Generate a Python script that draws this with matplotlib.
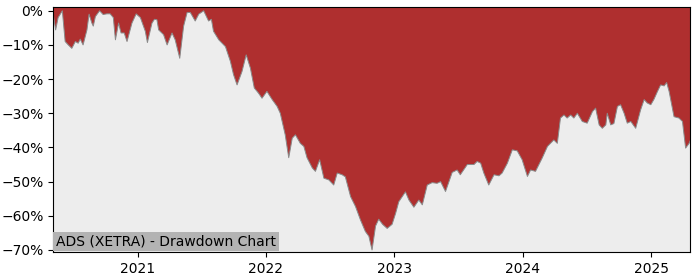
import matplotlib
matplotlib.use('Agg')
import matplotlib.pyplot as plt
import matplotlib.dates as mdates
import numpy as np
import pandas as pd
from matplotlib.ticker import PercentFormatter, MultipleLocator


# Точки просадки (дата, просадка в %)
dates = [
    '2020-05-06', '2020-05-13', '2020-05-20', '2020-06-01', '2020-06-09',
    '2020-06-18', '2020-06-28', '2020-07-08', '2020-07-16', '2020-07-22',
    '2020-07-30', '2020-08-10', '2020-08-16', '2020-08-24', '2020-08-28',
    '2020-09-03', '2020-09-15', '2020-09-25', '2020-10-06', '2020-10-15',
    '2020-10-24', '2020-10-30', '2020-11-08', '2020-11-15', '2020-11-24',
    '2020-12-02', '2020-12-16', '2020-12-28', '2021-01-09', '2021-01-23',
    '2021-01-29', '2021-02-11', '2021-02-18', '2021-02-25', '2021-03-02',
    '2021-03-16', '2021-03-26', '2021-04-09', '2021-04-18', '2021-05-01',
    '2021-05-12', '2021-05-22', '2021-05-31', '2021-06-14', '2021-06-24',
    '2021-07-08', '2021-07-22', '2021-07-30', '2021-08-05', '2021-08-20',
    '2021-09-08', '2021-09-22', '2021-10-01', '2021-10-11', '2021-10-25',
    '2021-11-06', '2021-11-18', '2021-11-29', '2021-12-11', '2021-12-21',
    '2022-01-04', '2022-01-19', '2022-02-02', '2022-02-11', '2022-02-25',
    '2022-03-07', '2022-03-17', '2022-03-26', '2022-04-09', '2022-04-19',
    '2022-04-28', '2022-05-13', '2022-05-22', '2022-06-03', '2022-06-15',
    '2022-06-29', '2022-07-13', '2022-07-23', '2022-08-06', '2022-08-15',
    '2022-08-30', '2022-09-13', '2022-09-27', '2022-10-11', '2022-10-21',
    '2022-10-30', '2022-11-09', '2022-11-18', '2022-11-29', '2022-12-12',
    '2022-12-26', '2023-01-05', '2023-01-14', '2023-02-02', '2023-02-12',
    '2023-02-26', '2023-03-12', '2023-03-22', '2023-04-05', '2023-04-19',
    '2023-05-03', '2023-05-13', '2023-05-27', '2023-06-15', '2023-06-29',
    '2023-07-08', '2023-07-28', '2023-08-16', '2023-08-25', '2023-09-04',
    '2023-09-13', '2023-09-27', '2023-10-12', '2023-10-26', '2023-11-04',
    '2023-11-19', '2023-12-03', '2023-12-17', '2023-12-31', '2024-01-15',
    '2024-01-24', '2024-02-07', '2024-02-26', '2024-03-12', '2024-03-30',
    '2024-04-09', '2024-04-18', '2024-04-28', '2024-05-07', '2024-05-17',
    '2024-05-26', '2024-06-05', '2024-06-19', '2024-07-03', '2024-07-18',
    '2024-07-27', '2024-08-06', '2024-08-15', '2024-08-25', '2024-08-29',
    '2024-09-08', '2024-09-17', '2024-09-27', '2024-10-06', '2024-10-16',
    '2024-10-25', '2024-11-04', '2024-11-18', '2024-12-02', '2024-12-12',
    '2024-12-21', '2024-12-31', '2025-01-09', '2025-01-19', '2025-01-28',
    '2025-02-07', '2025-02-14', '2025-02-21', '2025-03-07', '2025-03-21',
    '2025-03-31', '2025-04-09', '2025-04-19', '2025-04-22',
]
drawdown = [
    -1.0, -5.6, -2.0, 0.0, -9.0,
    -10.0, -11.0, -9.0, -9.5, -8.3,
    -10.0, -5.6, -1.0, -3.6, -4.5,
    -1.7, 0.0, -1.1, -0.9, -0.9,
    -2.0, -8.5, -3.6, -6.5, -6.5,
    -9.0, -3.6, -0.9, -2.0, -6.0,
    -9.3, -3.6, -2.5, -2.6, -5.6,
    -7.0, -10.0, -6.5, -8.5, -13.9,
    -4.5, -0.5, -0.5, -3.0, -1.0,
    0.0, -3.0, -2.5, -6.0, -8.5,
    -10.5, -14.8, -18.7, -21.7, -17.8,
    -12.9, -16.8, -22.6, -24.1, -25.6,
    -23.6, -26.0, -28.0, -30.0, -36.3,
    -43.0, -37.3, -36.3, -38.8, -39.7,
    -43.0, -46.0, -47.0, -43.6, -49.0,
    -49.5, -51.0, -47.5, -48.0, -48.6,
    -54.4, -57.3, -61.2, -64.6, -66.0,
    -70.0, -63.0, -61.0, -62.5, -63.7,
    -62.5, -59.3, -55.9, -53.0, -55.4,
    -57.5, -55.4, -56.8, -51.0, -50.3,
    -50.5, -50.0, -52.9, -47.3, -46.6,
    -48.0, -45.0, -45.0, -44.1, -44.6,
    -47.5, -51.0, -48.0, -48.3, -47.5,
    -44.6, -40.7, -41.0, -43.6, -48.5,
    -46.6, -47.0, -43.1, -39.7, -37.8,
    -38.8, -31.4, -30.5, -31.4, -30.5,
    -31.4, -30.0, -32.4, -32.9, -29.5,
    -28.5, -33.4, -34.4, -33.4, -30.0,
    -33.4, -33.0, -28.0, -27.5, -30.0,
    -32.9, -32.4, -34.4, -29.0, -26.0,
    -27.0, -27.5, -25.9, -23.6, -21.7,
    -22.0, -21.0, -23.6, -31.0, -31.4,
    -32.4, -40.2, -38.8, -38.0,
]
title = 'ADS (XETRA) - Drawdown Chart'


def build_chart():
    x = pd.to_datetime(dates)
    y = np.array(drawdown) / 100.0

    fig = plt.figure(figsize=(7, 2.8), dpi=100)
    ax = fig.add_axes([0.076, 0.1, 0.91, 0.875])
    ax.set_facecolor('#ededed')

    # красная заливка от кривой до верхнего края
    ax.fill_between(x, y, 1.0, color='#af2f2f', linewidth=0)
    ax.plot(x, y, color='#8a8a8a', linewidth=0.7)

    ax.set_xlim(x[0], x[-1])
    ax.set_ylim(-0.706, 0.011)
    ax.yaxis.set_major_locator(MultipleLocator(0.1))
    ax.yaxis.set_major_formatter(PercentFormatter(1.0, decimals=0))
    ax.xaxis.set_major_locator(mdates.YearLocator())
    ax.xaxis.set_major_formatter(mdates.DateFormatter('%Y'))

    ax.annotate(title, xy=(0, 0), xycoords='axes fraction',
                xytext=(2, 2.5), textcoords='offset points',
                fontsize=10, ha='left', va='bottom',
                bbox=dict(boxstyle='square,pad=0.2', facecolor='#b3b3b3',
                          edgecolor='none'))

    fig.savefig('out.png', dpi=100)


build_chart()
